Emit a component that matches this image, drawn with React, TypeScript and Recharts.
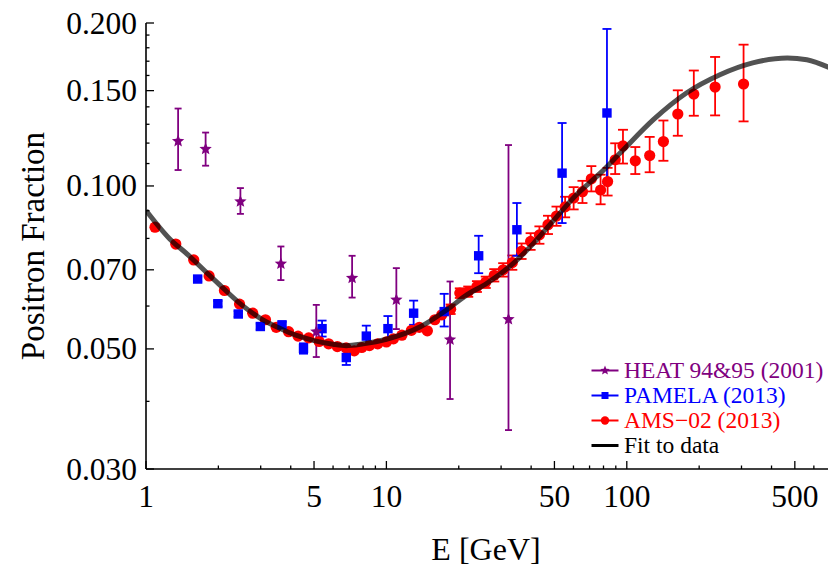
import React from 'react';
import { ComposedChart, XAxis, YAxis, Scatter, ErrorBar, Legend } from 'recharts';

// ---------- data ----------
const heatE = [1.36, 1.77, 2.47, 3.64, 5.11, 7.2, 11.0, 18.4, 32.2];
const heatF = [0.121, 0.117, 0.0936, 0.0718, 0.0538, 0.0676, 0.0616, 0.052, 0.0567];
const heatLo = [0.107, 0.109, 0.0888, 0.067, 0.0483, 0.0622, 0.0544, 0.0404, 0.0354];
const heatHi = [0.139, 0.1255, 0.0991, 0.0773, 0.0603, 0.0743, 0.0705, 0.0666, 0.119];

const pamE = [1.64, 1.99, 2.42, 2.99, 3.68, 4.52, 5.4, 6.81, 8.25, 10.15, 12.98, 17.4, 24.2, 34.9, 53.8, 82.7];
const pamF = [0.0673, 0.0606, 0.058, 0.055, 0.0554, 0.0501, 0.0545, 0.0482, 0.0528, 0.0545, 0.0582, 0.0586, 0.0743, 0.083, 0.1056, 0.1364];
const pamLo = [0.0666, 0.0599, 0.0573, 0.0543, 0.0547, 0.049, 0.0527, 0.0467, 0.0508, 0.0518, 0.0554, 0.055, 0.069, 0.0743, 0.0854, 0.1012];
const pamHi = [0.068, 0.0613, 0.0587, 0.0557, 0.0561, 0.0512, 0.0564, 0.0496, 0.0552, 0.0575, 0.0614, 0.0632, 0.0809, 0.093, 0.1307, 0.195];

const amsE = [1.09, 1.33, 1.58, 1.83, 2.12, 2.45, 2.78, 3.14, 3.48, 3.92, 4.29, 4.75, 5.25, 5.75, 6.25, 6.8, 7.35, 7.9, 8.5, 9.2, 10.0, 10.7, 11.6, 12.7, 13.7, 14.8, 15.9, 17.0, 18.5, 20.2, 21.9, 23.8, 25.9, 28.1, 30.6, 33.4, 36.5, 39.8, 43.3, 47.0, 51.0, 55.4, 60.1, 65.4, 71.2, 77.8, 83.2, 89.5, 96.4, 108.5, 124.5, 142, 163, 190, 233, 306];
const amsF = [0.0839, 0.0781, 0.073, 0.0682, 0.0641, 0.0605, 0.0582, 0.0566, 0.0548, 0.0538, 0.0528, 0.0524, 0.0516, 0.0511, 0.0505, 0.0502, 0.0496, 0.0503, 0.0507, 0.0511, 0.0515, 0.0522, 0.053, 0.0541, 0.0548, 0.054, 0.0566, 0.0578, 0.0592, 0.0634, 0.0638, 0.0652, 0.0664, 0.0684, 0.07, 0.0722, 0.0758, 0.079, 0.0812, 0.0848, 0.088, 0.0915, 0.095, 0.0976, 0.1031, 0.0983, 0.1019, 0.1118, 0.1186, 0.1113, 0.1138, 0.1208, 0.1358, 0.1478, 0.1523, 0.1543];
const amsLo = [0.0839, 0.0781, 0.073, 0.0682, 0.0641, 0.0605, 0.0582, 0.0566, 0.0548, 0.0538, 0.0528, 0.0524, 0.0516, 0.0511, 0.0505, 0.0502, 0.0496, 0.0503, 0.0507, 0.0511, 0.0515, 0.0522, 0.053, 0.0541, 0.0548, 0.054, 0.0566, 0.0578, 0.058, 0.0621, 0.0624, 0.0637, 0.0648, 0.0666, 0.068, 0.07, 0.0733, 0.0762, 0.0782, 0.0815, 0.0844, 0.0875, 0.0905, 0.093, 0.0977, 0.0925, 0.096, 0.1052, 0.11, 0.1052, 0.106, 0.1113, 0.1238, 0.1348, 0.135, 0.1316];
const amsHi = [0.0839, 0.0781, 0.073, 0.0682, 0.0641, 0.0605, 0.0582, 0.0566, 0.0548, 0.0538, 0.0528, 0.0524, 0.0516, 0.0511, 0.0505, 0.0502, 0.0496, 0.0503, 0.0507, 0.0511, 0.0515, 0.0522, 0.053, 0.0541, 0.0548, 0.054, 0.0566, 0.0578, 0.0604, 0.0647, 0.0652, 0.0667, 0.068, 0.0702, 0.072, 0.0744, 0.0783, 0.0818, 0.0842, 0.0881, 0.0916, 0.0955, 0.0995, 0.1022, 0.1088, 0.1049, 0.108, 0.1199, 0.127, 0.118, 0.1232, 0.1321, 0.1502, 0.1634, 0.1731, 0.1824];

const fitE = [1.0, 1.25, 1.5, 1.75, 2.0, 2.5, 3.0, 3.6, 4.2, 5.0, 6.0, 6.8, 8.0, 10.0, 13.9, 17.8, 21.6, 26.2, 33.8, 41, 51.2, 62, 77.6, 93.8, 129, 177, 244, 334, 465, 561, 700];
const fitF = [0.0901, 0.08, 0.0745, 0.0698, 0.066, 0.0603, 0.0569, 0.0546, 0.053, 0.0518, 0.051, 0.0507, 0.0511, 0.0521, 0.055, 0.059, 0.0629, 0.0661, 0.072, 0.0784, 0.0878, 0.0965, 0.1056, 0.115, 0.1326, 0.1485, 0.1605, 0.1688, 0.1724, 0.1711, 0.1652];

const xMajorTicks = [1, 5, 10, 50, 100, 500];
const xMinorTicks = [2, 3, 4, 6, 7, 8, 9, 20, 30, 40, 60, 70, 80, 90, 200, 300, 400, 600];
const yMajorTicks = [0.03, 0.05, 0.07, 0.1, 0.15, 0.2];
const yMajorLabels = ['0.030', '0.050', '0.070', '0.100', '0.150', '0.200'];
const yMinorTicks = [0.04, 0.06, 0.08, 0.09, 0.11, 0.12, 0.13, 0.14, 0.16, 0.17, 0.18, 0.19];

const legendNames = ['HEAT 94&95 (2001)', 'PAMELA (2013)', 'AMS\u221202 (2013)', 'Fit to data'];
const legendColors = ['#800080', '#0000ff', '#ff0000', '#000000'];
const legendMarks = ['star', 'square', 'circle', 'none'];

// ---------- tables ----------
const mk = (E: number[], F: number[], lo: number[], hi: number[]) =>
  E.map((e, i) => ({ E: e, f: F[i], err: [F[i] - lo[i], hi[i] - F[i]] }));
const heatData = mk(heatE, heatF, heatLo, heatHi);
const pamData = mk(pamE, pamF, pamLo, pamHi);
const amsData = mk(amsE, amsF, amsLo, amsHi);
const fitData = fitE.map((e, i) => ({ E: e, f: fitF[i] }));

const xTicks = [...xMajorTicks, ...xMinorTicks].sort((a, b) => a - b);
const yTicks = [...yMajorTicks, ...yMinorTicks].sort((a, b) => a - b);

const FONT = '"Liberation Serif", "Times New Roman", serif';
const TICK_FS = 31.5;
const MAJ = 8;
const MIN = 3.5;

const BottomTick = (p: any) => {
  const { x, y, payload } = p;
  const v = payload.value;
  const major = xMajorTicks.includes(v);
  return (
    <g>
      <line x1={x} x2={x} y1={y} y2={y - (major ? MAJ : MIN)} stroke="#000" strokeWidth={1.3} />
      {major && (
        <text x={x} y={y + 38} textAnchor="middle" fontSize={TICK_FS} fontFamily={FONT} fill="#000">
          {String(v)}
        </text>
      )}
    </g>
  );
};
const TopTick = (p: any) => {
  const { x, y, payload } = p;
  const major = xMajorTicks.includes(payload.value);
  return <line x1={x} x2={x} y1={y} y2={y + (major ? MAJ : MIN)} stroke="#000" strokeWidth={1.3} />;
};
const LeftTick = (p: any) => {
  const { x, y, payload } = p;
  const idx = yMajorTicks.indexOf(payload.value);
  const major = idx >= 0;
  return (
    <g>
      <line x1={x} x2={x + (major ? MAJ : MIN)} y1={y} y2={y} stroke="#000" strokeWidth={1.3} />
      {major && (
        <text x={x - 9} y={y + 10.5} textAnchor="end" fontSize={TICK_FS} fontFamily={FONT} fill="#000">
          {yMajorLabels[idx]}
        </text>
      )}
    </g>
  );
};
const RightTick = (p: any) => {
  const { x, y, payload } = p;
  const major = yMajorTicks.includes(payload.value);
  return <line x1={x} x2={x - (major ? MAJ : MIN)} y1={y} y2={y} stroke="#000" strokeWidth={1.3} />;
};

const starPoints = (cx: number, cy: number, ro: number, ri: number) => {
  const pts: string[] = [];
  for (let k = 0; k < 10; k++) {
    const r = k % 2 === 0 ? ro : ri;
    const a = -Math.PI / 2 + (k * Math.PI) / 5;
    pts.push(`${cx + r * Math.cos(a)},${cy + r * Math.sin(a)}`);
  }
  return pts.join(' ');
};

const StarShape = (p: any) => <polygon points={starPoints(p.cx, p.cy, 6.5, 2.9)} fill="#800080" />;
const SquareShape = (p: any) => <rect x={p.cx - 4.7} y={p.cy - 4.7} width={9.4} height={9.4} fill="#0000ff" />;
const CircleShape = (p: any) => <circle cx={p.cx} cy={p.cy} r={5.6} fill="#ff0000" />;
const NoShape = () => <g />;

const LegendMark = ({ kind, color }: { kind: string; color: string }) => (
  <svg width={28} height={25} style={{ display: 'block' }}>
    <line x1={0.5} x2={27.5} y1={12.5} y2={12.5} stroke={color} strokeWidth={kind === 'none' ? 3 : 2} />
    {kind === 'star' && <polygon points={starPoints(14, 12.5, 5, 2.2)} fill={color} />}
    {kind === 'square' && <rect x={10.5} y={9} width={7} height={7} fill={color} />}
    {kind === 'circle' && <circle cx={14} cy={12.5} r={4.2} fill={color} />}
  </svg>
);

const LegendContent = () => (
  <div style={{ fontFamily: FONT, fontSize: 23.5 }}>
    {legendNames.map((n, i) => (
      <div key={n} style={{ display: 'flex', alignItems: 'center', height: 25, lineHeight: '25px', whiteSpace: 'nowrap' }}>
        <LegendMark kind={legendMarks[i]} color={legendColors[i]} />
        <span style={{ color: legendColors[i], marginLeft: 5 }}>{n}</span>
      </div>
    ))}
  </div>
);

export default function App() {
  const W = 829;
  const H = 568;
  const xDomain = [1, 687];
  const yDomain = [0.03, 0.2];
  return (
    <div style={{ position: 'absolute', left: 0, top: 0, width: W, height: H, background: '#fff' }}>
      <ComposedChart width={W} height={H} margin={{ top: 23, right: 1, bottom: 0, left: 0 }}>
        <XAxis
          xAxisId="x"
          dataKey="E"
          type="number"
          scale="log"
          domain={xDomain}
          allowDataOverflow
          ticks={xTicks}
          interval={0}
          tickSize={0}
          tickMargin={0}
          tickLine={false}
          tick={BottomTick}
          height={99}
          axisLine={{ stroke: '#000', strokeWidth: 1.6 }}
        />
        <XAxis
          xAxisId="xt"
          orientation="top"
          dataKey="E"
          type="number"
          scale="log"
          domain={xDomain}
          allowDataOverflow
          ticks={xTicks}
          interval={0}
          tickSize={0}
          tickMargin={0}
          tickLine={false}
          tick={TopTick}
          height={0}
          axisLine={{ stroke: '#000', strokeWidth: 1.6 }}
        />
        <YAxis
          yAxisId="y"
          dataKey="f"
          type="number"
          scale="log"
          domain={yDomain}
          allowDataOverflow
          ticks={yTicks}
          interval={0}
          tickSize={0}
          tickMargin={0}
          tickLine={false}
          tick={LeftTick}
          width={146}
          axisLine={{ stroke: '#000', strokeWidth: 1.6 }}
        />
        <YAxis
          yAxisId="yr"
          orientation="right"
          dataKey="f"
          type="number"
          scale="log"
          domain={yDomain}
          allowDataOverflow
          ticks={yTicks}
          interval={0}
          tickSize={0}
          tickMargin={0}
          tickLine={false}
          tick={RightTick}
          width={0}
          axisLine={{ stroke: '#000', strokeWidth: 1.6 }}
        />
        <Scatter data={amsData} xAxisId="x" yAxisId="y" dataKey="f" shape={CircleShape} isAnimationActive={false}>
          <ErrorBar dataKey="err" direction="y" width={5} stroke="#ff0000" strokeWidth={1.8} />
        </Scatter>
        <Scatter data={pamData} xAxisId="x" yAxisId="y" dataKey="f" shape={SquareShape} isAnimationActive={false}>
          <ErrorBar dataKey="err" direction="y" width={4.5} stroke="#0000ff" strokeWidth={1.8} />
        </Scatter>
        <Scatter data={heatData} xAxisId="x" yAxisId="y" dataKey="f" shape={StarShape} isAnimationActive={false}>
          <ErrorBar dataKey="err" direction="y" width={3.5} stroke="#800080" strokeWidth={1.8} />
        </Scatter>
        <Scatter
          data={fitData}
          xAxisId="x"
          yAxisId="y"
          dataKey="f"
          shape={NoShape}
          line={{ stroke: '#000', strokeOpacity: 0.68, strokeWidth: 5, fill: 'none' }}
          lineType="joint"
          lineJointType="monotoneX"
          isAnimationActive={false}
        />
        <Legend
          layout="horizontal"
          verticalAlign="middle"
          align="center"
          content={LegendContent}
          wrapperStyle={{ position: 'absolute', left: 591, top: 358, width: 238, height: 100, margin: 0 }}
        />
        <text x={44} y={246} transform="rotate(-90, 44, 246)" textAnchor="middle" fontSize={33} fontFamily={FONT} fill="#000">
          Positron Fraction
        </text>
        <text x={486} y={560} textAnchor="middle" fontSize={32} fontFamily={FONT} fill="#000">
          E [GeV]
        </text>
      </ComposedChart>
    </div>
  );
}
